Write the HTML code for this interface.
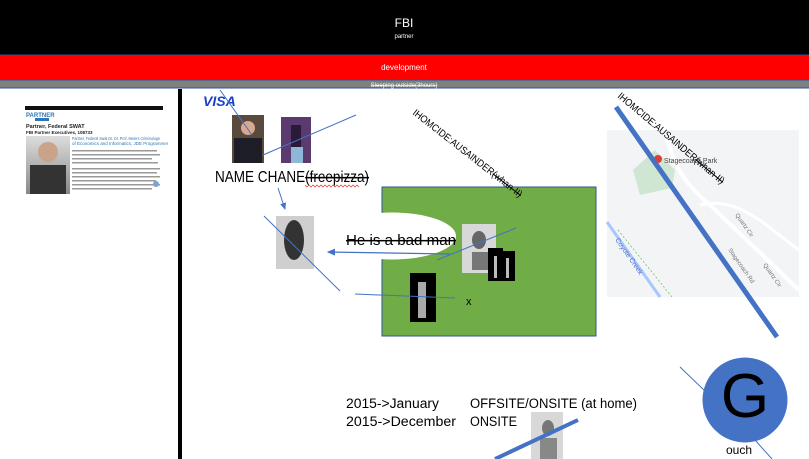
<!DOCTYPE html>
<html><head><meta charset="utf-8"><style>
html,body{margin:0;padding:0;background:#fff;}
svg{display:block;font-family:"Liberation Sans",sans-serif;}
</style></head><body>
<svg width="809" height="459" viewBox="0 0 809 459" xmlns="http://www.w3.org/2000/svg">
<defs>
<marker id="ah" markerWidth="8" markerHeight="8" refX="6" refY="3" orient="auto"><path d="M0,0 L7,3 L0,6 z" fill="#4472c4"/></marker>
<linearGradient id="gr" x1="0" y1="0" x2="0" y2="1"><stop offset="0" stop-color="#ddd"/><stop offset="1" stop-color="#888"/></linearGradient>
</defs>
<rect x="0" y="0" width="809" height="55" fill="#000"/>
<text x="404" y="27" fill="#fff" font-size="12" text-anchor="middle">FBI</text>
<text x="404" y="38" fill="#fff" font-size="6" text-anchor="middle">partner</text>
<rect x="0" y="55" width="809" height="25" fill="#ff0000"/>
<line x1="0" y1="55" x2="809" y2="55" stroke="#2f5597" stroke-width="1"/>
<text x="404" y="70" fill="#fff" font-size="8" text-anchor="middle">development</text>
<rect x="0" y="80" width="809" height="8" fill="#808080"/>
<line x1="0" y1="80" x2="809" y2="80" stroke="#2f5597" stroke-width="1"/>
<line x1="0" y1="88" x2="809" y2="88" stroke="#2f5597" stroke-width="1"/>
<text x="404" y="87" fill="#fff" font-size="6" text-anchor="middle" text-decoration="line-through">Sleeping outside(3hours)</text>
<rect x="178" y="89" width="4" height="370" fill="#000"/>

<rect x="25" y="106" width="138" height="4" fill="#111"/>
<text x="26" y="117" font-size="6" fill="#2e75b6" font-weight="bold">PARTNER</text>
<rect x="35" y="118" width="14" height="3" fill="#2e75b6"/>
<text x="26" y="128" font-size="5.5" font-weight="bold" fill="#222">Partner, Federal SWAT</text>
<text x="26" y="134" font-size="4.5" font-weight="bold" fill="#222">FBI Partner Executives, 108733</text>
<rect x="26" y="136" width="44" height="58" fill="url(#gr)"/>
<circle cx="48" cy="152" r="10" fill="#c9a38a"/>
<rect x="30" y="165" width="36" height="29" fill="#333"/>
<text x="72" y="140" font-size="4.5" fill="#2e75b6" textLength="88" lengthAdjust="spacingAndGlyphs">Partner, Federal Swat Dr. Dr. Prof. Meiers Criminologe</text>
<text x="72" y="145" font-size="4.5" fill="#2e75b6">of Economics and Informatics, JDE Programmer</text>
<g fill="#999"><rect x="72" y="150" width="85" height="1.5"/><rect x="72" y="154" width="88" height="1.5"/><rect x="72" y="158" width="80" height="1.5"/><rect x="72" y="162" width="86" height="1.5"/><rect x="72" y="168" width="88" height="1.5"/><rect x="72" y="172" width="85" height="1.5"/><rect x="72" y="176" width="88" height="1.5"/><rect x="72" y="180" width="84" height="1.5"/><rect x="72" y="184" width="88" height="1.5"/><rect x="72" y="188" width="80" height="1.5"/></g>
<circle cx="156" cy="184" r="3" fill="#7aa3d6"/>

<text x="203" y="106" font-size="14" font-weight="bold" font-style="italic" fill="#1a3fc8">VISA</text>
<rect x="232" y="115" width="32" height="48" fill="#5a4a3e"/>
<circle cx="248" cy="128" r="7" fill="#d9a88f"/>
<rect x="234" y="138" width="28" height="25" fill="#1e1e28"/>
<rect x="281" y="117" width="30" height="46" fill="#5b3a70"/>
<rect x="291" y="125" width="10" height="22" fill="#2a1a3a"/>
<rect x="291" y="147" width="12" height="16" fill="#8fb8d8"/>
<line x1="220" y1="90" x2="252" y2="135" stroke="#4472c4" stroke-width="1"/>
<line x1="263" y1="155" x2="356" y2="115" stroke="#4472c4" stroke-width="1"/>
<text x="215" y="182" font-size="15.5" fill="#000" textLength="154" lengthAdjust="spacingAndGlyphs">NAME CHANE<tspan text-decoration="line-through">(freepizza)</tspan></text>
<path d="M305,185 l2,2 l2,-2 l2,2 l2,-2 l2,2 l2,-2 l2,2 l2,-2 l2,2 l2,-2 l2,2 l2,-2 l2,2 l2,-2 l2,2 l2,-2 l2,2 l2,-2 l2,2 l2,-2 l2,2 l2,-2 l2,2 l2,-2 l2,2 l2,-2 l2,2" stroke="#e03030" stroke-width="0.7" fill="none"/>

<line x1="278" y1="188" x2="285" y2="209" stroke="#4472c4" stroke-width="1" marker-end="url(#ah)"/>
<rect x="276" y="216" width="38" height="53" fill="#cfcfcf"/>
<ellipse cx="294" cy="240" rx="10" ry="20" fill="#333"/>

<rect x="382" y="187" width="214" height="149" fill="#70ad47" stroke="#2f5597" stroke-width="1"/>
<ellipse cx="392" cy="236" rx="64" ry="23.5" fill="#fff"/>
<text x="346" y="245" font-size="15" fill="#000" text-decoration="line-through" textLength="110" lengthAdjust="spacingAndGlyphs">He is a bad man</text>
<rect x="462" y="224" width="34" height="49" fill="#d8d8d8"/>
<ellipse cx="479" cy="240" rx="7" ry="9" fill="#666"/>
<rect x="472" y="252" width="16" height="18" fill="#777"/>
<rect x="488" y="248" width="15" height="33" fill="#000"/>
<rect x="500" y="251" width="15" height="30" fill="#000"/>
<rect x="494" y="256" width="3" height="22" fill="#bbb"/>
<rect x="506" y="258" width="3" height="20" fill="#bbb"/>
<rect x="410" y="273" width="26" height="49" fill="#000"/>
<rect x="418" y="282" width="8" height="36" fill="#aaa"/>
<text x="466" y="305" font-size="11" fill="#000">x</text>
<line x1="516" y1="228" x2="437" y2="260" stroke="#4472c4" stroke-width="1"/>
<line x1="450" y1="254" x2="328" y2="252" stroke="#4472c4" stroke-width="1.2" marker-end="url(#ah)"/>
<line x1="264" y1="216" x2="340" y2="291" stroke="#4472c4" stroke-width="1"/>
<line x1="355" y1="294" x2="455" y2="298" stroke="#4472c4" stroke-width="1"/>

<text x="0" y="0" font-size="10" fill="#000" transform="translate(412,114) rotate(38)" textLength="136" lengthAdjust="spacingAndGlyphs">IHOMCIDE:AUSAINDER<tspan text-decoration="line-through">(whan-II)</tspan></text>

<rect x="607" y="130" width="192" height="167" fill="#f3f4f6"/>
<polygon points="633,170 655,150 675,170 672,188 640,195" fill="#cfe6d3"/>
<path d="M665,130 C672,160 680,180 710,205 L799,290" stroke="#fff" stroke-width="4" fill="none"/>
<path d="M700,205 C740,195 770,230 799,250" stroke="#fff" stroke-width="3" fill="none"/>
<line x1="607" y1="222" x2="660" y2="297" stroke="#a8c7fa" stroke-width="3"/>
<line x1="618" y1="230" x2="672" y2="297" stroke="#4caf50" stroke-width="0.6" stroke-dasharray="2,2"/>
<text font-size="7" fill="#4a6fd0" transform="translate(615,240) rotate(55)">Coyote Creek</text>
<text font-size="6" fill="#777" transform="translate(728,250) rotate(55)">Stagecoach Rd</text>
<text font-size="6" fill="#777" transform="translate(735,215) rotate(55)">Quartz Cir</text>
<text font-size="6" fill="#777" transform="translate(763,265) rotate(55)">Quartz Cir</text>
<circle cx="658" cy="159" r="4" fill="#e53935"/>
<text x="664" y="163" font-size="7" fill="#444">Stagecoach Park</text>
<line x1="616" y1="107" x2="777" y2="337" stroke="#4472c4" stroke-width="5"/>
<text x="0" y="0" font-size="10" fill="#000" transform="translate(617,97) rotate(40)" textLength="136" lengthAdjust="spacingAndGlyphs">IHOMCIDE:AUSAINDER<tspan text-decoration="line-through">(whan-II)</tspan></text>

<text x="346" y="408" font-size="13.5" fill="#000" textLength="93" lengthAdjust="spacingAndGlyphs">2015-&gt;January</text>
<text x="346" y="426" font-size="13.5" fill="#000" textLength="110" lengthAdjust="spacingAndGlyphs">2015-&gt;December</text>
<text x="470" y="408" font-size="13.5" fill="#000" textLength="167" lengthAdjust="spacingAndGlyphs">OFFSITE/ONSITE (at home)</text>
<text x="470" y="426" font-size="13.5" fill="#000" textLength="47" lengthAdjust="spacingAndGlyphs">ONSITE</text>
<rect x="531" y="412" width="32" height="47" fill="#d8d8d8"/>
<ellipse cx="548" cy="428" rx="6" ry="8" fill="#777"/>
<rect x="540" y="438" width="17" height="21" fill="#888"/>
<line x1="495" y1="459" x2="578" y2="420" stroke="#4472c4" stroke-width="4"/>

<line x1="680" y1="367" x2="706" y2="392" stroke="#4472c4" stroke-width="1"/>
<circle cx="745" cy="400" r="42.5" fill="#4472c4"/>
<text x="745" y="417" font-size="62" fill="#000" text-anchor="middle">G</text>
<line x1="755" y1="440" x2="772" y2="459" stroke="#4472c4" stroke-width="1"/>
<text x="726" y="454" font-size="12" fill="#000">ouch</text>
</svg>
</body></html>
